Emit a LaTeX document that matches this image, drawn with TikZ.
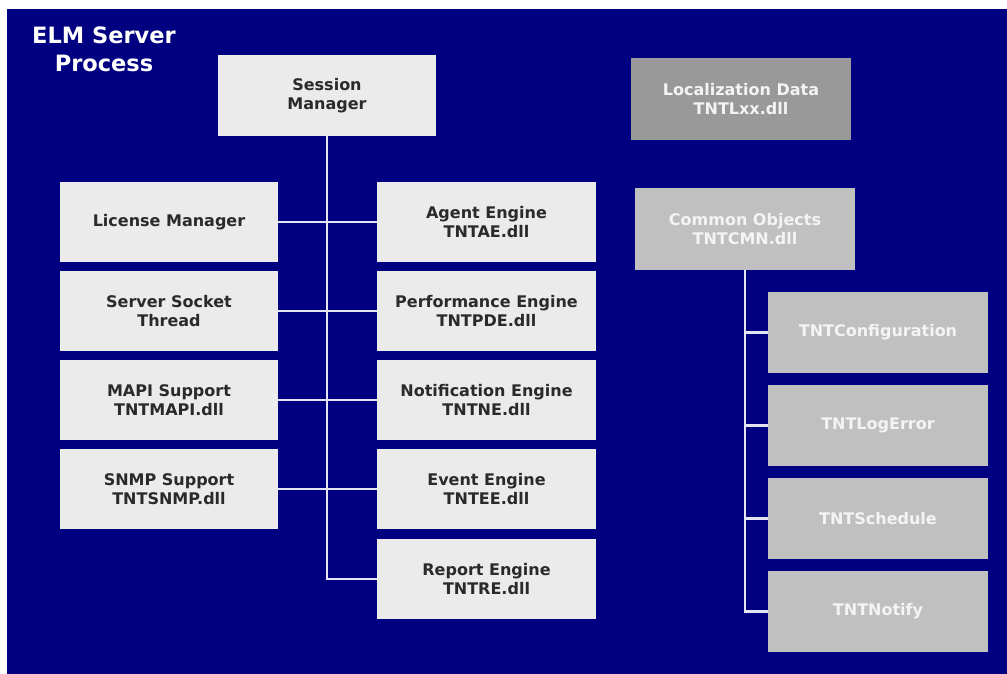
\documentclass[tikz,border=0pt]{standalone}
\usepackage{fontspec}
\setmainfont{DejaVu Sans}
\definecolor{navybg}{HTML}{000080}
\definecolor{lightbox}{HTML}{EBEBEB}
\definecolor{darkgray}{HTML}{999999}
\definecolor{midgray}{HTML}{C0C0C0}
\definecolor{linecol}{HTML}{E4E4F4}
\definecolor{txtdark}{HTML}{2A2A2A}
\definecolor{txtlight}{HTML}{F4F4F4}
\begin{document}
\begin{tikzpicture}[x=1pt,y=-1pt,
  base/.style={rectangle, inner sep=0pt, align=center, font=\fontsize{16}{19}\selectfont\bfseries},
  lbox/.style={base, fill=lightbox, text=txtdark, minimum width=218pt, minimum height=80pt},
  gbox/.style={base, fill=midgray, text=txtlight, minimum width=220pt, minimum height=82pt},
  dbox/.style={base, fill=darkgray, text=txtlight, minimum width=220pt, minimum height=82pt},
  conn/.style={draw=linecol, line width=2.5pt}]
\useasboundingbox (0,0) rectangle (1007,674);
\fill[white] (0,0) rectangle (1007,674);
\fill[navybg] (7,9) rectangle (1007,674);
\node[base, text=white, font=\fontsize{22.5}{28}\selectfont\bfseries] (title) at (104,49) {ELM Server\\Process};
% left / centre column
\node[lbox, minimum height=81pt] (sm) at (327,95.5) {Session\\Manager};
\node[lbox] (lm) at (169,222) {License Manager};
\node[lbox] (sst) at (169,311) {Server Socket\\Thread};
\node[lbox] (mapi) at (169,400) {MAPI Support\\TNTMAPI.dll};
\node[lbox] (snmp) at (169,489) {SNMP Support\\TNTSNMP.dll};
\node[lbox, minimum width=219pt] (ae) at (486.5,222) {Agent Engine\\TNTAE.dll};
\node[lbox, minimum width=219pt] (pe) at (486.5,311) {Performance Engine\\TNTPDE.dll};
\node[lbox, minimum width=219pt] (ne) at (486.5,400) {Notification Engine\\TNTNE.dll};
\node[lbox, minimum width=219pt] (ee) at (486.5,489) {Event Engine\\TNTEE.dll};
\node[lbox, minimum width=219pt] (re) at (486.5,579) {Report Engine\\TNTRE.dll};
% right column
\node[dbox] (loc) at (741,99) {Localization Data\\TNTLxx.dll};
\node[gbox] (cmn) at (745,229) {Common Objects\\TNTCMN.dll};
\node[gbox, minimum height=81pt] (cfg) at (878,332.5) {TNTConfiguration};
\node[gbox, minimum height=81pt] (log) at (878,425.5) {TNTLogError};
\node[gbox, minimum height=81pt] (sch) at (878,518.5) {TNTSchedule};
\node[gbox, minimum height=81pt] (ntf) at (878,611.5) {TNTNotify};
% connectors
\coordinate (trunkend) at (sm.south |- re.west);
\draw[conn] (sm.south) -- (trunkend) -- (re.west);
\draw[conn] (lm.east) -- (ae.west);
\draw[conn] (sst.east) -- (pe.west);
\draw[conn] (mapi.east) -- (ne.west);
\draw[conn] (snmp.east) -- (ee.west);
\coordinate (rtrunkend) at (cmn.south |- ntf.west);
\draw[conn] (cmn.south) -- (rtrunkend) -- (ntf.west);
\draw[conn] (cmn.south |- cfg.west) -- (cfg.west);
\draw[conn] (cmn.south |- log.west) -- (log.west);
\draw[conn] (cmn.south |- sch.west) -- (sch.west);
\end{tikzpicture}
\end{document}
